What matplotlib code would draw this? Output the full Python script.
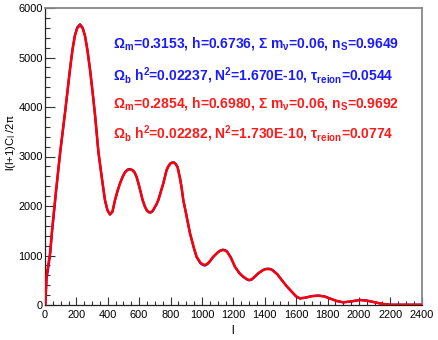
import matplotlib
matplotlib.use("Agg")
import matplotlib.pyplot as plt
from matplotlib.ticker import MultipleLocator

# multipole values
ell = [2, 10, 15, 32, 45, 70, 96, 130, 159, 175, 190, 205, 223, 240, 255, 270,
       287, 305, 320, 340, 355, 367, 382, 398, 414, 430, 446, 462, 478, 495,
       510, 525, 541, 557, 570, 583, 595, 608, 622, 637, 650, 662, 673, 686,
       700, 711, 722, 738, 754, 765, 775, 788, 800, 811, 822, 834, 845, 860,
       870, 881, 900, 924, 950, 966, 990, 1005, 1019, 1035, 1050, 1072, 1100,
       1116, 1132, 1146, 1160, 1185, 1210, 1240, 1264, 1285, 1301, 1316, 1330,
       1359, 1390, 1406, 1422, 1438, 1450, 1480, 1508, 1540, 1572, 1600, 1624,
       1660, 1700, 1741, 1780, 1820, 1860, 1900, 1950, 2006, 2050, 2100, 2150,
       2200, 2300, 2400]

# red model (Omega_m=0.2854 ...)
dl_red = [0, 600, 700, 1044, 1515, 2300, 3070, 3950, 4750, 5150, 5430, 5590,
          5657, 5590, 5430, 5150, 4750, 4250, 3800, 3100, 2740, 2458, 2121,
          1915, 1832, 1890, 2121, 2300, 2458, 2590, 2680, 2727, 2741, 2722,
          2680, 2590, 2458, 2300, 2121, 1985, 1910, 1878, 1872, 1900, 1980,
          2040, 2121, 2290, 2458, 2600, 2727, 2810, 2860, 2874, 2875, 2840,
          2780, 2560, 2380, 2121, 1830, 1448, 1140, 976, 855, 822, 808, 835,
          885, 976, 1060, 1094, 1111, 1104, 1075, 950, 774, 640, 572, 525, 505,
          518, 555, 640, 705, 722, 727, 720, 700, 620, 505, 380, 269, 175, 135,
          150, 178, 188, 172, 125, 80, 55, 72, 100, 88, 55, 22, 5, 5, 5]

# blue model (Omega_m=0.3153 ...), almost on top of the red one
dl_blue = [0, 540, 630, 1000, 1480, 2280, 3060, 3950, 4760, 5160, 5445, 5605,
           5672, 5604, 5442, 5160, 4755, 4252, 3798, 3096, 2735, 2453, 2116,
           1908, 1826, 1884, 2118, 2302, 2462, 2595, 2686, 2734, 2748, 2728,
           2685, 2594, 2460, 2300, 2118, 1980, 1904, 1872, 1866, 1895, 1976,
           2036, 2118, 2290, 2462, 2605, 2732, 2815, 2866, 2880, 2880, 2844,
           2784, 2562, 2380, 2118, 1824, 1440, 1130, 966, 843, 810, 796, 825,
           877, 970, 1060, 1100, 1118, 1111, 1082, 955, 772, 635, 565, 518, 498,
           512, 550, 640, 710, 729, 734, 727, 706, 624, 506, 378, 266, 172, 131,
           148, 180, 192, 175, 127, 80, 53, 72, 103, 90, 56, 22, 5, 5, 5]

blue_lines = [
    r"$\Omega_{m}$=0.3153, h=0.6736, $\Sigma$ m$_{\nu}$=0.06, n$_{S}$=0.9649",
    r"$\Omega_{b}$ h$^{2}$=0.02237, N$^{2}$=1.670E-10, $\tau_{reion}$=0.0544",
]
red_lines = [
    r"$\Omega_{m}$=0.2854, h=0.6980, $\Sigma$ m$_{\nu}$=0.06, n$_{S}$=0.9692",
    r"$\Omega_{b}$ h$^{2}$=0.02282, N$^{2}$=1.730E-10, $\tau_{reion}$=0.0774",
]

plt.rcParams["font.family"] = ["Liberation Sans", "DejaVu Sans"]
plt.rcParams["mathtext.fontset"] = "custom"
plt.rcParams["mathtext.rm"] = "Liberation Sans:bold"
plt.rcParams["mathtext.it"] = "Liberation Sans:bold"
plt.rcParams["mathtext.bf"] = "Liberation Sans:bold"
plt.rcParams["mathtext.sf"] = "Liberation Sans:bold"
plt.rcParams["mathtext.default"] = "rm"

W, H = 439, 340
fig = plt.figure(figsize=(W / 100, H / 100), dpi=100)
ax = fig.add_axes([45 / W, 1 - 305 / H, (421.7 - 45) / W, (305 - 8) / H])

ax.plot(ell, dl_blue, color="#0000ff", lw=1.6, zorder=2,
        solid_joinstyle="round")
ax.plot(ell, dl_red, color="#ff0000", lw=1.8, zorder=3,
        solid_joinstyle="round")

ax.set_xlim(0, 2400)
ax.set_ylim(0, 6000)
ax.xaxis.set_major_locator(MultipleLocator(200))
ax.xaxis.set_minor_locator(MultipleLocator(50))
ax.yaxis.set_major_locator(MultipleLocator(1000))
ax.yaxis.set_minor_locator(MultipleLocator(200))
ax.tick_params(which="both", direction="in", top=False, right=False,
               labelsize=7.9, color="#333333", width=0.8)
ax.tick_params(axis="x", which="major", length=6, pad=3.5)
ax.tick_params(axis="x", which="minor", length=3)
ax.tick_params(axis="y", which="major", length=7, pad=1.5)
ax.tick_params(axis="y", which="minor", length=3.5)

for side in ("left", "bottom"):
    ax.spines[side].set_color("#222222")
    ax.spines[side].set_linewidth(0.9)
for side in ("top", "right"):
    ax.spines[side].set_color("#888888")
    ax.spines[side].set_linewidth(1.3)

baselines = [48, 80, 108, 139]
colors = ["#1a1aff", "#1a1aff", "#ff1a1a", "#ff1a1a"]
for txt, yb, c in zip(blue_lines + red_lines, baselines, colors):
    fig.text(113 / W, 1 - yb / H, txt, color=c, fontsize=10, fontweight="bold",
             ha="left", va="baseline")

fig.text(11 / W, 1 - 143 / H, r"l(l+1)C$_{l}$ /2$\pi$", rotation=90,
         ha="center", va="center", fontsize=8, math_fontfamily="dejavusans")
fig.text(233 / W, 1 - 331 / H, "l", ha="center", va="center", fontsize=8.5)

fig.savefig("out.png", dpi=100)
